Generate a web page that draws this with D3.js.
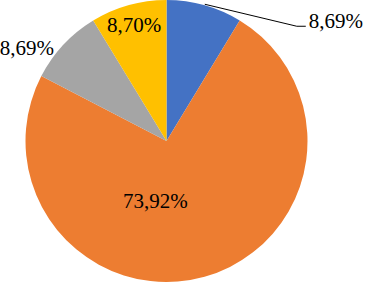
<!DOCTYPE html>
<html>
<head>
<meta charset="utf-8">
<script src="https://cdn.jsdelivr.net/npm/d3@7"></script>
<style>
  body { margin: 0; background: #fff; }
</style>
</head>
<body>
<div id="chart"></div>
<script>
// chart data, slices go clockwise from 12 o'clock
var categories = ["A", "B", "C", "D"];
var values = [8.69, 73.92, 8.69, 8.70];
var labels = ["8,69%", "73,92%", "8,69%", "8,70%"];
var colors = ["#4472C4", "#ED7D31", "#A5A5A5", "#FFC000"];

var width = 366, height = 283;
var cx = 166.5, cy = 141, radius = 141;

var svg = d3.select("#chart")
  .append("svg")
    .attr("width", width)
    .attr("height", height)
  .append("g")
    .attr("transform", "translate(" + cx + "," + cy + ")");

var data = categories.map(function(c, i) {
  return {name: c, value: values[i], label: labels[i], color: colors[i]};
});

var pie = d3.pie()
  .sort(null)
  .value(function(d) { return d.value; });

var arc = d3.arc().innerRadius(0).outerRadius(radius);

var arcs = pie(data);

svg.selectAll("path.slice")
  .data(arcs)
  .enter()
  .append("path")
    .attr("class", "slice")
    .attr("d", arc)
    .style("fill", function(d) { return d.data.color; });

// point on a circle of radius r at the middle angle of a slice
function polar(d, r) {
  var a = (d.startAngle + d.endAngle) / 2;
  return [Math.sin(a) * r, -Math.cos(a) * r];
}

// label placement: [x, y, anchor], rough offsets from the chart centre
var lab = [];
// blue: outside with leader line
var p0 = polar(arcs[0], radius + 1);
var elbow = [p0[0] + 92, p0[1] + 22];
var endp = [elbow[0] + 9, elbow[1]];
svg.append("polyline")
  .attr("points", [p0, elbow, endp].map(function(p) { return p.join(","); }).join(" "))
  .style("fill", "none")
  .style("stroke", "#000")
  .style("stroke-width", 1);
lab.push([endp[0] + 3, endp[1] - 5, "start"]);
// orange: inside
var p1 = polar(arcs[1], 62);
lab.push([p1[0] - 28, p1[1], "middle"]);
// grey: outside, left
var p2 = polar(arcs[2], radius);
lab.push([p2[0] - 9.5, p2[1] + 3, "end"]);
// yellow: inside near rim
var p3 = polar(arcs[3], 120);
lab.push([p3[0], p3[1], "middle"]);

svg.selectAll("text.lbl")
  .data(arcs)
  .enter()
  .append("text")
    .attr("class", "lbl")
    .attr("x", function(d, i) { return lab[i][0]; })
    .attr("y", function(d, i) { return lab[i][1]; })
    .attr("text-anchor", function(d, i) { return lab[i][2]; })
    .attr("dominant-baseline", "central")
    .style("font-family", "'Liberation Serif', 'Times New Roman', serif")
    .style("font-size", "21px")
    .style("fill", "#000")
    .text(function(d) { return d.data.label; });
</script>
</body>
</html>
